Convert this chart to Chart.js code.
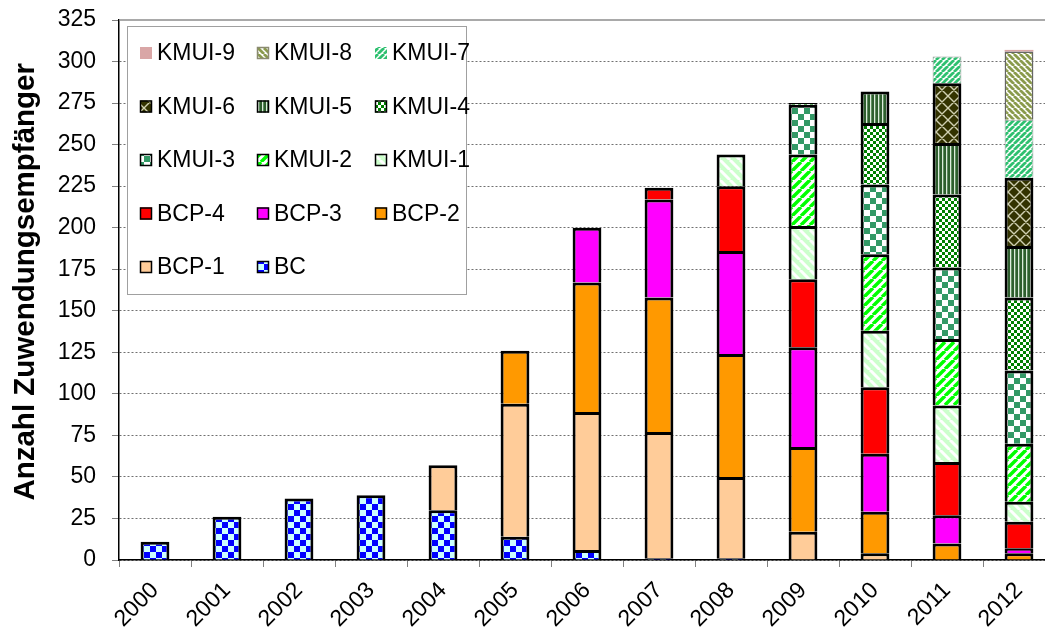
<!DOCTYPE html>
<html><head><meta charset="utf-8">
<script src="https://cdn.jsdelivr.net/npm/chart.js@4.4.0/dist/chart.umd.min.js"></script>
<style>
html,body{margin:0;padding:0;background:#fff;overflow:hidden;width:1045px;height:628px;}
#wrap{position:absolute;left:0;top:0;width:1060px;height:628px;}
</style></head><body>
<div id="wrap"><canvas id="c" width="1060" height="628"></canvas></div>
<script>
// ---- data ----
const years = ['2000','2001','2002','2003','2004','2005','2006','2007','2008','2009','2010','2011','2012'];
const yTicks = [0,25,50,75,100,125,150,175,200,225,250,275,300,325];
const BC     = [11,26,37,39,30,14, 6, 1, 1, 0, 0, 0, 0];
const BCP1   = [ 0, 0, 0, 0,27,80,83,76,49,17, 4, 0, 0];
const BCP2   = [ 0, 0, 0, 0, 0,32,78,81,74,51,25,10, 4];
const BCP3   = [ 0, 0, 0, 0, 0, 0,33,59,62,60,35,17, 3];
const BCP4   = [ 0, 0, 0, 0, 0, 0, 0, 7,39,41,40,32,16];
const KMUI1  = [ 0, 0, 0, 0, 0, 0, 0, 0,19,32,34,34,12];
const KMUI2  = [ 0, 0, 0, 0, 0, 0, 0, 0, 0,43,46,40,35];
const KMUI3  = [ 0, 0, 0, 0, 0, 0, 0, 0, 0,30,42,43,44];
const KMUI4  = [ 0, 0, 0, 0, 0, 0, 0, 0, 0, 1,37,44,44];
const KMUI5  = [ 0, 0, 0, 0, 0, 0, 0, 0, 0, 0,19,31,31];
const KMUI6  = [ 0, 0, 0, 0, 0, 0, 0, 0, 0, 0, 0,36,41];
const KMUI7  = [ 0, 0, 0, 0, 0, 0, 0, 0, 0, 0, 0,16,35];
const KMUI8  = [ 0, 0, 0, 0, 0, 0, 0, 0, 0, 0, 0, 0,41];
const KMUI9  = [ 0, 0, 0, 0, 0, 0, 0, 0, 0, 0, 0, 0, 1];
const seriesNames = ['BC','BCP-1','BCP-2','BCP-3','BCP-4','KMUI-1','KMUI-2','KMUI-3','KMUI-4','KMUI-5','KMUI-6','KMUI-7','KMUI-8','KMUI-9'];
const seriesData  = [BC,BCP1,BCP2,BCP3,BCP4,KMUI1,KMUI2,KMUI3,KMUI4,KMUI5,KMUI6,KMUI7,KMUI8,KMUI9];

// ---- patterns ----
const mainCtx = document.getElementById('c').getContext('2d');
function tile(w,h,draw){const c=document.createElement('canvas');c.width=w;c.height=h;const x=c.getContext('2d');draw(x,w,h);return mainCtx.createPattern(c,'repeat');}
function checker(s,a,b){return tile(2*s,2*s,x=>{x.fillStyle=b;x.fillRect(0,0,2*s,2*s);x.fillStyle=a;x.fillRect(0,0,s,s);x.fillRect(s,s,s,s);});}
function diag(s,bg,fg,lw,dir){return tile(s,s,x=>{x.fillStyle=bg;x.fillRect(0,0,s,s);x.strokeStyle=fg;x.lineWidth=lw;x.beginPath();
  for(let k=-1;k<=1;k++){ if(dir==='/'){x.moveTo(k*s,s);x.lineTo(k*s+s,0);} else {x.moveTo(k*s,0);x.lineTo(k*s+s,s);} }
  x.stroke();});}
const pBC    = checker(6,'#0000FF','#CCFFFF');
const pK1    = diag(10,'#CCFFCC','#FFFFFF',3,'\\');
const pK2    = diag(9,'#FFFFFF','#00FF00',3.5,'/');
const pK3    = checker(6,'#339966','#FFFFFF');
const pK4    = checker(3,'#008000','#FFFFFF');
const pK5    = tile(4,4,x=>{x.fillStyle='#2E5E2E';x.fillRect(0,0,4,4);x.fillStyle='#DDEBDD';x.fillRect(2,0,1,4);x.fillStyle='#5E8E5E';x.fillRect(3,0,1,4);});
const pK6    = tile(12,12,x=>{x.fillStyle='#333300';x.fillRect(0,0,12,12);x.strokeStyle='#CFCFB0';x.lineWidth=1.4;x.beginPath();
  for(let k=-1;k<=1;k++){x.moveTo(k*12,12);x.lineTo(k*12+12,0);x.moveTo(k*12,0);x.lineTo(k*12+12,12);} x.stroke();});
const pK7    = diag(6,'#FFFFFF','#2EC070',2.8,'/');
const pK8    = diag(6,'#FFFFFF','#8A9A4C',2.8,'\\');

const fills   = [pBC,'#FFCC99','#FF9900','#FF00FF','#FF0000',pK1,pK2,pK3,pK4,pK5,pK6,pK7,pK8,'#D9A6A6'];
const borders = ['#000','#000','#000','#000','#000','#000','#000','#000','#000','#000','#000','#999','#666','rgba(0,0,0,0)'];
const bwidths = [3,3,3,3,3,3,3,3,3,3,3,1,1.5,0];
const legBorder = ['#000','#000','#000','#000','#000','#000','#000','#000','#000','#000','#000',null,'#8a8a70',null];

const datasets = seriesNames.map((n,i)=>({
  label:n, data:seriesData[i], backgroundColor:fills[i], borderColor:borders[i], borderWidth:bwidths[i],
  borderSkipped:'start', barPercentage:0.4, categoryPercentage:1.0, legBorder:legBorder[i]
}));

const FONT = '"Liberation Sans", Arial, sans-serif';
Chart.defaults.font.family = FONT;
Chart.defaults.color = '#000';

const boxLegend = {
  id:'boxLegend',
  beforeDatasetsDraw(chart){
    const ctx = chart.ctx, a = chart.chartArea;
    ctx.save();
    ctx.strokeStyle='#8c8c8c'; ctx.lineWidth=1.5; ctx.beginPath(); ctx.moveTo(a.left,a.top); ctx.lineTo(a.right,a.top); ctx.stroke();
    ctx.fillStyle='#fff'; ctx.fillRect(127.5,26.5,339,268);
    ctx.strokeStyle='#a0a0a0'; ctx.lineWidth=1; ctx.strokeRect(127.5,26.5,339,268);
    const ds = chart.data.datasets;
    const order = ds.map((d,i)=>i).reverse();
    const colX = [140,257,375];
    order.forEach((di,k)=>{
      const d = ds[di]; const col=k%3, row=Math.floor(k/3);
      const x = colX[col], y = 53 + row*53.5;
      ctx.fillStyle = d.backgroundColor; ctx.fillRect(x,y-6,12,12);
      if (d.legBorder){ ctx.strokeStyle=d.legBorder; ctx.lineWidth=1.5; ctx.strokeRect(x+0.5,y-5.5,11,11); }
      ctx.fillStyle='#000'; ctx.font='23px '+FONT; ctx.textBaseline='middle'; ctx.textAlign='left';
      ctx.fillText(d.label, x+17, y+1);
    });
    ctx.restore();
  }
};

new Chart(mainCtx, {
  type:'bar',
  data:{labels:years, datasets},
  options:{
    responsive:false, animation:false, devicePixelRatio:1,
    layout:{padding:{top:20,right:5,bottom:0,left:0}},
    plugins:{legend:{display:false}, tooltip:{enabled:false}},
    scales:{
      x:{
        stacked:true,
        afterFit(s){ s.height = 68; s.paddingLeft = 0; s.paddingRight = 0; },
        grid:{display:true, drawOnChartArea:false, drawTicks:true, tickLength:7, tickColor:'#808080', offset:true},
        border:{display:true, color:'#000', width:1.5},
        ticks:{font:{size:23}, minRotation:45, maxRotation:45, padding:10, autoSkip:false}
      },
      y:{
        stacked:true, min:0, max:325,
        afterFit(s){ s.width = 119; s.paddingTop = 0; s.paddingBottom = 0; },
        afterBuildTicks(s){ s.ticks = yTicks.map(v=>({value:v})); },
        grid:{color:(c)=> (c.tick && c.tick.value===325) ? 'rgba(0,0,0,0)' : '#707070', lineWidth:1, tickLength:7, tickColor:'#808080', drawTicks:true},
        border:{display:true, color:'#000', width:1.5, dash:[2,2]},
        ticks:{font:{size:23}, padding:16},
        title:{display:true, text:'\u00a0\u00a0Anzahl Zuwendungsempfänger', font:{size:29.5, weight:'bold'}, padding:{top:8,bottom:0}, color:'#000'}
      }
    }
  },
  plugins:[boxLegend]
});
</script>
</body></html>
